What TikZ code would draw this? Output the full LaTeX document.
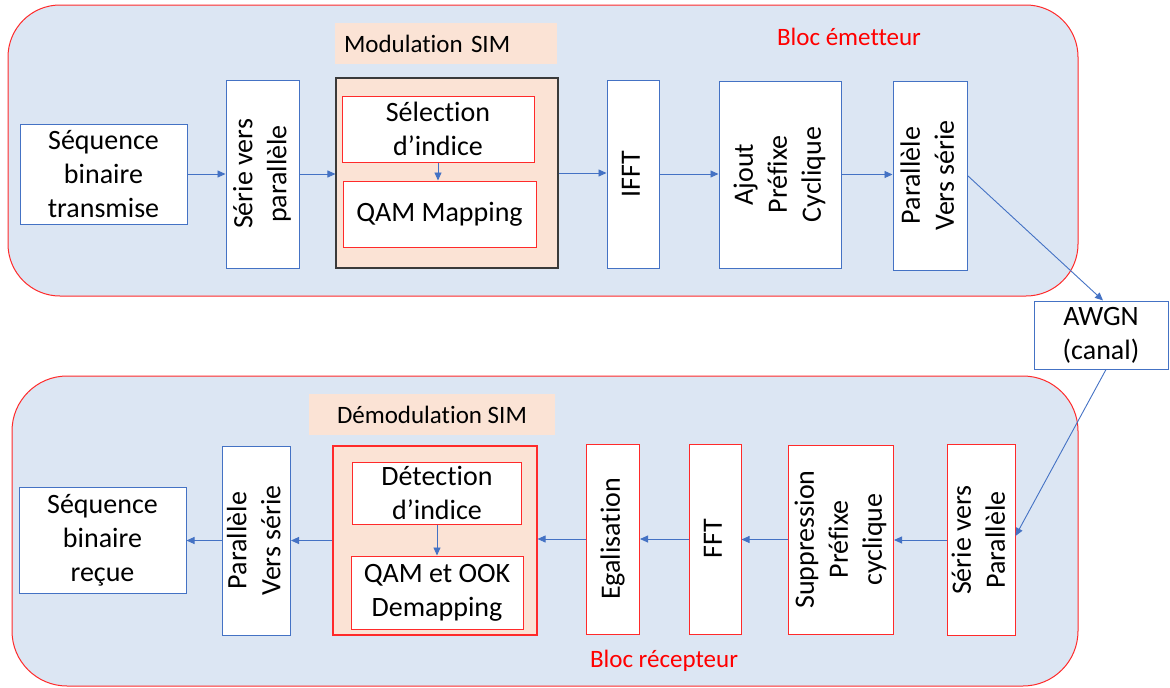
\documentclass[tikz,border=0pt]{standalone}
\usepackage{fontspec}
\setmainfont{Carlito}[Ligatures=NoCommon]
\usetikzlibrary{arrows.meta}
\definecolor{cblue}{HTML}{4472C4}
\definecolor{cred}{HTML}{FF2A2A}
\definecolor{cblock}{HTML}{DCE6F3}
\definecolor{cpeach}{HTML}{FBE3D5}
\definecolor{cdark}{HTML}{3A3A3A}
\definecolor{ctxtred}{HTML}{FF0000}
\newcommand{\vtxt}[1]{\rotatebox{90}{\begin{tabular}{@{}c@{}}#1\end{tabular}}}
\begin{document}
\begin{tikzpicture}[x=1pt,y=-1pt,
  every node/.style={font=\fontsize{28}{34}\selectfont, inner sep=0pt, align=center},
  bluebox/.style={draw=cblue, fill=white, line width=1pt},
  redbox/.style={draw=cred, fill=white, line width=1pt},
  block/.style={draw=cred, fill=cblock, line width=1pt},
  lab/.style={fill=cpeach, font=\fontsize{25}{30}\selectfont},
  blabel/.style={text=ctxtred, font=\fontsize{25}{30}\selectfont},
  arr/.style={draw=cblue, line width=0.9pt, -{Triangle[length=8pt,width=7pt]}}]
\useasboundingbox (0,0) rectangle (1170,688);
% blocks
\draw[block, rounded corners=52pt] (8,5) rectangle (1078,296);
\draw[block, rounded corners=55pt] (12,376) rectangle (1078,686);

% ---------- emitter ----------
\node[lab, minimum width=222pt, minimum height=41pt, text width=204pt, align=left] (labT) at (446,43.5) {Modulation SIM};
\node[blabel] (blocT) at (849,37) {Bloc émetteur};
\node[bluebox, minimum width=167pt, minimum height=100pt] (seqT) at (103.5,174) {Séquence\\binaire\\transmise};
\node[bluebox, minimum width=73pt, minimum height=188pt] (spT) at (262.5,174) {\vtxt{Série vers\\parallèle}};
\node[draw=cdark, fill=cpeach, line width=1.1pt, minimum width=222pt, minimum height=190pt] (modT) at (447,173) {};
\node[redbox, minimum width=192pt, minimum height=66pt] (selT) at (438,129) {Sélection\\d’indice};
\node[redbox, minimum width=193pt, minimum height=66pt] (qamT) at (439.5,214) {QAM Mapping};
\node[bluebox, minimum width=52pt, minimum height=188pt] (ifft) at (633,174) {\vtxt{IFFT}};
\node[bluebox, minimum width=122pt, minimum height=187pt] (ajout) at (780,174.5) {\vtxt{Ajout\\Préfixe\\Cyclique}};
\node[bluebox, minimum width=74pt, minimum height=189pt] (pvsT) at (930,175.5) {\vtxt{Parallèle\\Vers série}};
\node[bluebox, minimum width=134pt, minimum height=68pt] (awgn) at (1101,335) {AWGN\\(canal)};

% ---------- receiver ----------
\node[lab, minimum width=246pt, minimum height=41pt] (labB) at (432,414.5) {Démodulation SIM};
\node[blabel] (blocB) at (664,661) {Bloc récepteur};
\node[bluebox, minimum width=167pt, minimum height=106pt] (seqR) at (102.5,540) {Séquence\\binaire\\reçue};
\node[bluebox, minimum width=67pt, minimum height=189pt] (pvsR) at (256.5,540.5) {\vtxt{Parallèle\\Vers série}};
\node[draw=cred, fill=cpeach, line width=1.1pt, minimum width=204pt, minimum height=189pt] (demod) at (435,540.5) {};
\node[redbox, minimum width=169pt, minimum height=62pt] (detR) at (437,493) {Détection\\d’indice};
\node[redbox, minimum width=172pt, minimum height=73pt] (qoR) at (437,592.5) {QAM et OOK\\Demapping};
\node[redbox, minimum width=53pt, minimum height=190pt] (egal) at (613,539) {\vtxt{Egalisation}};
\node[redbox, minimum width=52pt, minimum height=190pt] (fft) at (715,539) {\vtxt{FFT}};
\node[redbox, minimum width=105pt, minimum height=189pt] (supp) at (841,539.5) {\vtxt{Suppression\\Préfixe\\cyclique}};
\node[redbox, minimum width=64pt, minimum height=191pt] (spR) at (981,540) {\vtxt{Série vers\\Parallèle}};

% ---------- connectors ----------
\draw[arr] (seqT.east) -- (seqT.east -| spT.west);
\draw[arr] (spT.east) -- (spT.east -| modT.west);
\draw[arr] (selT.south) -- (selT.south |- qamT.north);
\draw[arr] (modT.east) -- (modT.east -| ifft.west);
\draw[arr] (ifft.east) -- (ifft.east -| ajout.west);
\draw[arr] (ajout.east) -- (ajout.east -| pvsT.west);
\draw[arr] (pvsT.east) -- ([xshift=2pt]awgn.north);
\draw[arr] ([xshift=5pt]awgn.south) -- ([yshift=4pt]spR.east);
\draw[arr] (spR.west) -- (spR.west -| supp.east);
\draw[arr] (supp.west) -- (supp.west -| fft.east);
\draw[arr] (fft.west) -- (fft.west -| egal.east);
\draw[arr] (egal.west) -- (egal.west -| demod.east);
\draw[arr] (detR.south) -- (detR.south |- qoR.north);
\draw[arr] (demod.west) -- (demod.west -| pvsR.east);
\draw[arr] (pvsR.west) -- (pvsR.west -| seqR.east);
\end{tikzpicture}
\end{document}
